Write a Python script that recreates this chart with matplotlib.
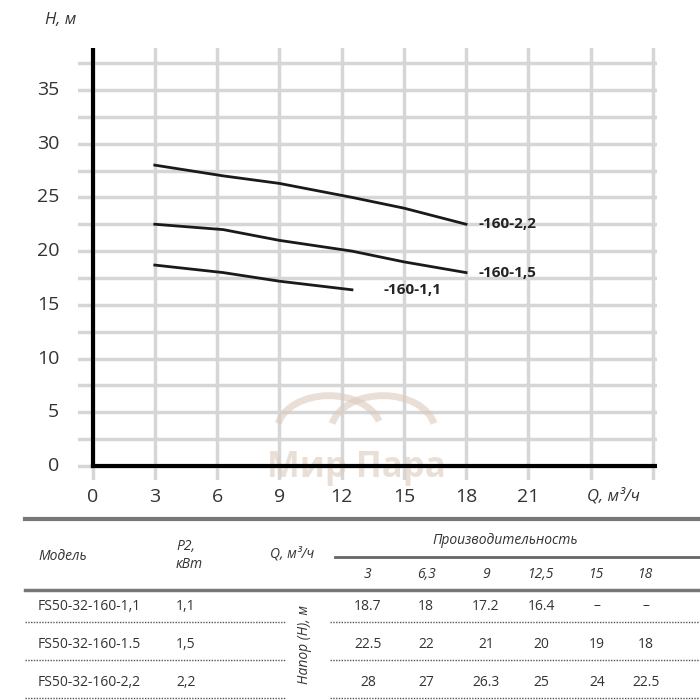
import matplotlib as mpl
mpl.use('Agg')
import matplotlib.pyplot as plt  # noqa
from matplotlib.lines import Line2D  # noqa
from matplotlib.patches import Arc  # noqa

plt.rcParams['font.family'] = ['Open Sans', 'DejaVu Sans']

q_cols = [3, 6.3, 9, 12.5, 15, 18]
q_labels = ['3', '6,3', '9', '12,5', '15', '18']
models = ['FS50-32-160-1,1', 'FS50-32-160-1.5', 'FS50-32-160-2,2']
p2 = ['1,1', '1,5', '2,2']
curve_names = ['-160-1,1', '-160-1,5', '-160-2,2']
head = [
    [18.7, 18, 17.2, 16.4, None, None],
    [22.5, 22, 21, 20, 19, 18],
    [28, 27, 26.3, 25, 24, 22.5],
]
x_ticks = [0, 3, 6, 9, 12, 15, 18, 21]
y_ticks = [0, 5, 10, 15, 20, 25, 30, 35]

W = H = 700
fig = plt.figure(figsize=(7, 7), dpi=100)


def fx(px):
    return px / W


def fy(py):
    return 1 - py / H


ax = fig.add_axes([fx(78), fy(480), fx(657) - fx(78), fy(48) - fy(480)])
ax.set_xlim(-0.7, 27.2)
ax.set_ylim(-1.3, 38.9)
for s in ax.spines.values():
    s.set_visible(False)
ax.set_xticks([])
ax.set_yticks([])
grid_c = '#d6d6d6'
for gx in range(0, 28, 3):
    ax.axvline(gx, color=grid_c, lw=2.5, zorder=1)
for i in range(16):
    ax.axhline(i * 2.5, color=grid_c, lw=2.5, zorder=1)
ax.plot([0, 0], [0, 38.9], color='black', lw=3, zorder=3)
ax.plot([0, 27.2], [0, 0], color='black', lw=3, zorder=3)

# watermark
ax.add_patch(Arc((11.4, 3.3), 5, 6.5, theta1=20, theta2=165, color='#dccbbd',
                 lw=5, alpha=0.6, zorder=2))
ax.add_patch(Arc((14.0, 3.3), 5, 6.5, theta1=15, theta2=165, color='#dccbbd',
                 lw=5, alpha=0.6, zorder=2))
ax.text(12.7, -0.2, 'Мир Пара', fontsize=25, fontweight='bold',
        color='#dccbbd', alpha=0.6, ha='center', va='center', zorder=2)

label_off = [(1.5, 0), (0.6, 0), (0.6, 0)]
for vals, name, off in zip(head, curve_names, label_off):
    xs = [q for q, v in zip(q_cols, vals) if v is not None]
    ys = [v for v in vals if v is not None]
    ax.plot(xs, ys, color='#1a1a1a', lw=2, zorder=4)
    ax.text(xs[-1] + off[0], ys[-1] + off[1], name, fontsize=11,
            fontweight='bold', color='#222', va='center', zorder=5)

for t in x_ticks:
    ax.text(t, -2.9, str(t), fontsize=14, color='#333', ha='center',
            va='center', clip_on=False)
for t in y_ticks:
    ax.text(-1.6, t, str(t), fontsize=14, color='#333', ha='right',
            va='center', clip_on=False)
fig.text(fx(587), fy(496), 'Q, м³/ч', fontsize=12, style='italic',
         color='#333', va='center')
fig.text(fx(45), fy(20), 'H, м', fontsize=12, style='italic',
         color='#333', va='center')

# table
tc = '#333'


def hline(x0, x1, y, lw=1, ls='-', c='#555'):
    fig.add_artist(Line2D([fx(x0), fx(x1)], [fy(y), fy(y)], lw=lw, ls=ls,
                          color=c))


hline(25, 700, 519, lw=3, c='#777')
hline(335, 700, 557, lw=2, c='#666')
hline(25, 700, 590, lw=2.5, c='#777')
for y in (622, 660, 698):
    hline(25, 285, y, lw=1, ls=(0, (1, 1)))
    hline(330, 700, y, lw=1, ls=(0, (1, 1)))

fig.text(fx(38), fy(556), 'Модель', fontsize=10, style='italic', color=tc,
         va='center')
fig.text(fx(176), fy(547), 'P2,', fontsize=10, style='italic', color=tc,
         va='center')
fig.text(fx(176), fy(565), 'кВт', fontsize=10, style='italic', color=tc,
         va='center')
fig.text(fx(270), fy(554), 'Q, м³/ч', fontsize=10, style='italic', color=tc,
         va='center')
fig.text(fx(505), fy(540), 'Производительность', fontsize=10, style='italic',
         color=tc, ha='center', va='center')
fig.text(fx(305), fy(645), 'Напор (Н), м', fontsize=10, style='italic',
         color=tc, ha='center', va='center', rotation=90)

col_x = [368, 426, 486, 541, 597, 646]
for cx, lab in zip(col_x, q_labels):
    fig.text(fx(cx), fy(575), lab, fontsize=10, style='italic', color=tc,
             ha='center', va='center')
row_y = [606, 645, 683]
for ry, m, p, vals in zip(row_y, models, p2, head):
    fig.text(fx(38), fy(ry), m, fontsize=10, color=tc, va='center')
    fig.text(fx(176), fy(ry), p, fontsize=10, color=tc, va='center')
    for cx, v in zip(col_x, vals):
        s = '–' if v is None else ('%g' % v)
        fig.text(fx(cx), fy(ry), s, fontsize=10, color=tc, ha='center',
                 va='center')

fig.savefig('out.png', dpi=100)
